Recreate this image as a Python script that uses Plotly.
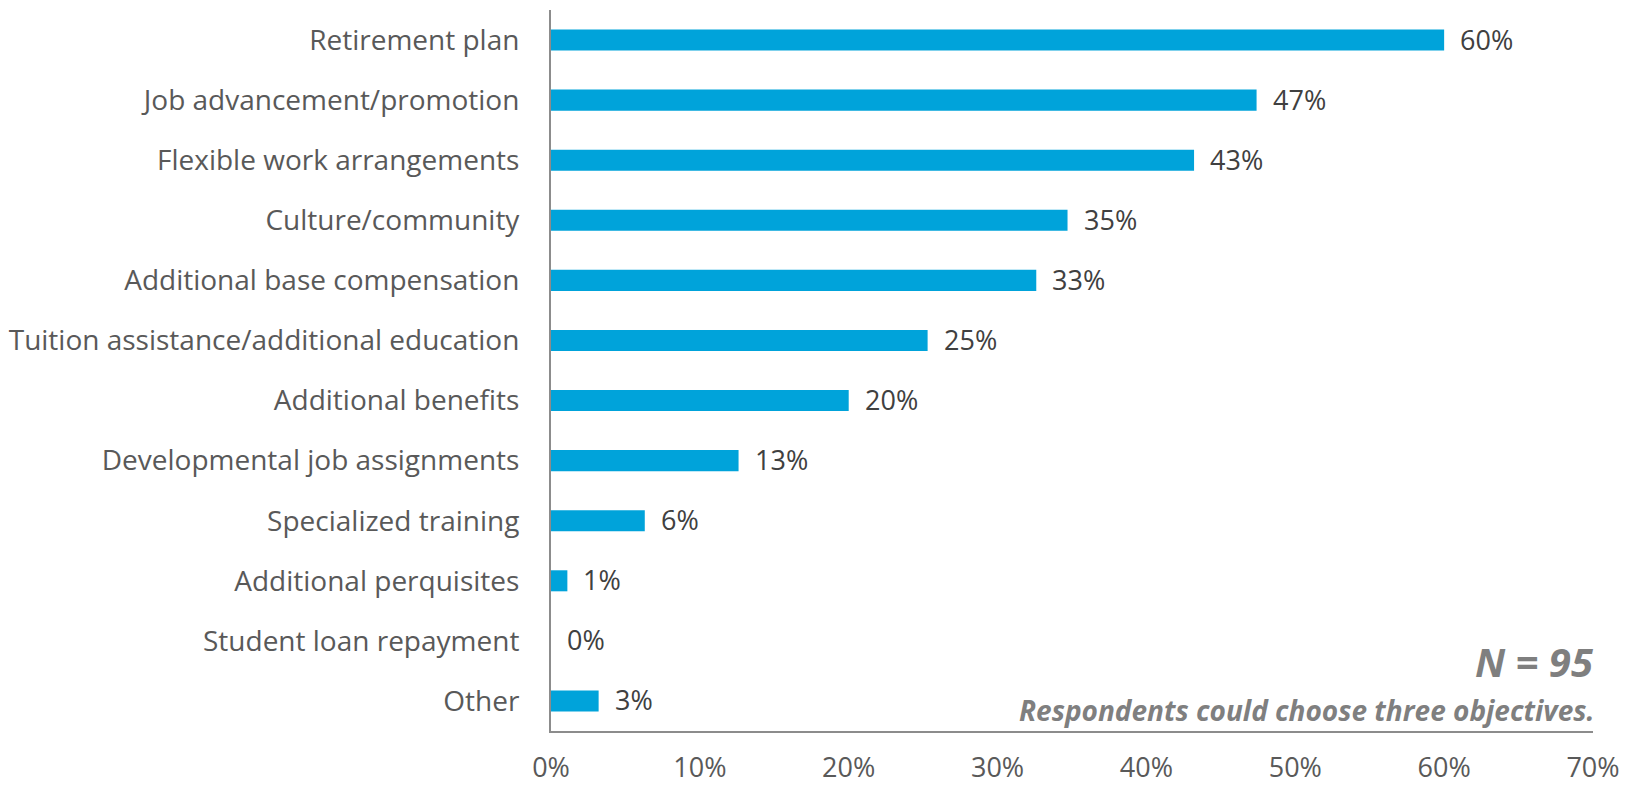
import plotly.graph_objects as go

# Share of respondents selecting each objective (N = 95)
categories = [
    "Retirement plan",
    "Job advancement/promotion",
    "Flexible work arrangements",
    "Culture/community",
    "Additional base compensation",
    "Tuition assistance/additional education",
    "Additional benefits",
    "Developmental job assignments",
    "Specialized training",
    "Additional perquisites",
    "Student loan repayment",
    "Other",
]
shares = [0.600, 0.474, 0.432, 0.347, 0.326, 0.253, 0.200, 0.126, 0.063, 0.011, 0.0, 0.032]
tick_vals = [0, 0.1, 0.2, 0.3, 0.4, 0.5, 0.6, 0.7]
tick_text = ["0%", "10%", "20%", "30%", "40%", "50%", "60%", "70%"]

BAR_COLOR = "#00A3DA"
LABEL_COLOR = "#595959"
VALUE_COLOR = "#404040"
NOTE_COLOR = "#7F7F7F"
FONT = "Open Sans"

fig = go.Figure(
    go.Bar(
        x=shares,
        y=categories,
        orientation="h",
        marker=dict(color=BAR_COLOR, line=dict(width=0)),
        hoverinfo="skip",
    )
)

# Value labels to the right of each bar
for cat, v in zip(categories, shares):
    fig.add_annotation(
        x=v, y=cat, xref="x", yref="y",
        text=f"{v:.0%}", showarrow=False,
        xanchor="left", yanchor="middle", xshift=14, yshift=1,
        font=dict(family=FONT, size=27, color=VALUE_COLOR),
    )

fig.add_annotation(
    x=1, y=0.096, xref="paper", yref="paper",
    text="<b><i>N = 95</i></b>", showarrow=False,
    xanchor="right", yanchor="middle", xshift=3,
    font=dict(family=FONT, size=40, color=NOTE_COLOR),
)
fig.add_annotation(
    x=1, y=0.029, xref="paper", yref="paper",
    text="<b><i>Respondents could choose three objectives.</i></b>", showarrow=False,
    xanchor="right", yanchor="middle", xshift=3,
    font=dict(family=FONT, size=28, color=NOTE_COLOR),
)

fig.update_layout(
    width=1634, height=786,
    margin=dict(l=551, r=41, t=10, b=55, autoexpand=False),
    plot_bgcolor="white", paper_bgcolor="white",
    bargap=0.65,
    showlegend=False,
    xaxis=dict(
        range=[0, 0.7], tickvals=tick_vals, ticktext=tick_text,
        showgrid=False, zeroline=False, automargin=False,
        showline=True, linecolor="#8C8C8C", linewidth=2,
        ticks="", ticklabelstandoff=12,
        tickfont=dict(family=FONT, size=27, color=LABEL_COLOR),
    ),
    yaxis=dict(
        categoryorder="array", categoryarray=categories, autorange="reversed",
        showgrid=False, zeroline=False, automargin=False,
        showline=True, linecolor="#8C8C8C", linewidth=2,
        ticks="", ticklabelstandoff=24,
        tickfont=dict(family=FONT, size=28, color=LABEL_COLOR),
    ),
)

fig.write_html("out.html")
